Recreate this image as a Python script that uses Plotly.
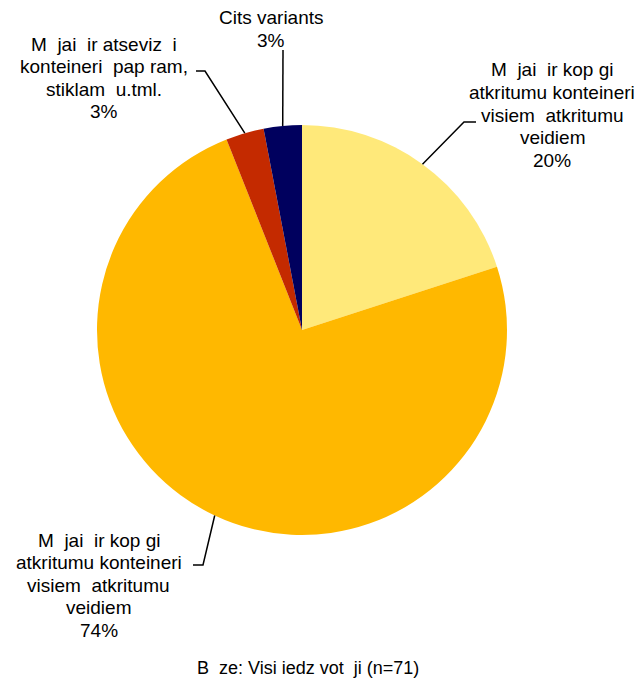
import math
import plotly.graph_objects as go

# ---- data ----
labels = [
    ["M  jai  ir kop gi", "atkritumu konteineri", "visiem  atkritumu", "veidiem"],
    ["M  jai  ir kop gi", "atkritumu konteineri", "visiem  atkritumu", "veidiem"],
    ["M  jai  ir atseviz  i", "konteineri  pap ram,", "stiklam  u.tml."],
    ["Cits variants"],
]
values = [20, 74, 3, 3]
colors = ["#FFE97A", "#FFB800", "#C42A00", "#00005E"]
footnote = "B  ze: Visi iedz vot  ji (n=71)"

W, H = 642, 685
OFF = 8  # page body margin offset
CX, CY, R = 302, 330, 205  # pie centre / radius in page pixels
LINE = 22.5
FONT = "Liberation Sans, Arial, sans-serif"

def px(x):
    return (x - OFF) / W

def py(y):
    return 1 - (y - OFF) / H

fig = go.Figure(go.Pie(
    values=values,
    labels=[f"s{i}" for i in range(len(values))],
    marker=dict(colors=colors, line=dict(width=0)),
    sort=False,
    direction="clockwise",
    rotation=0,
    textinfo="none",
    hoverinfo="skip",
    showlegend=False,
    domain=dict(x=[px(CX - R), px(CX + R)], y=[py(CY + R), py(CY - R)]),
))

# label placement (text block centres) and leader elbows, in page pixels
label_pos = [(552, 115), (99, 585), (104, 78), (271, 29)]
elbows = [[(464, 122), (476, 122)],
          [(203, 565), (193, 565)],
          [(205, 71), (196, 71)],
          [(283, 50)]]

total = sum(values)
cum = 0
shapes = []
annotations = []
for v, lab, (lx, ly), elb in zip(values, labels, label_pos, elbows):
    mid = (cum + v / 2) / total * 2 * math.pi
    cum += v
    sx = CX + R * math.sin(mid)
    sy = CY - R * math.cos(mid)
    pts = [(sx, sy)] + elb
    path = "M " + " L ".join(f"{px(x)},{py(y)}" for x, y in pts)
    shapes.append(dict(type="path", xref="paper", yref="paper", path=path,
                       line=dict(color="black", width=1.5)))
    lines = lab + [f"{round(v / total * 100)}%"]
    n = len(lines)
    for i, t in enumerate(lines):
        yy = ly + (i - (n - 1) / 2) * LINE
        annotations.append(dict(
            x=px(lx), y=py(yy), xref="paper", yref="paper", text=t,
            showarrow=False, xanchor="center", yanchor="middle",
            font=dict(family=FONT, size=19, color="black"),
        ))

annotations.append(dict(
    x=px(308), y=py(668), xref="paper", yref="paper", text=footnote,
    showarrow=False, xanchor="center", yanchor="middle",
    font=dict(family=FONT, size=18, color="black"),
))

fig.update_layout(
    width=W, height=H,
    margin=dict(l=0, r=0, t=0, b=0),
    paper_bgcolor="white", plot_bgcolor="white",
    shapes=shapes, annotations=annotations,
)

fig.write_html("out.html")
